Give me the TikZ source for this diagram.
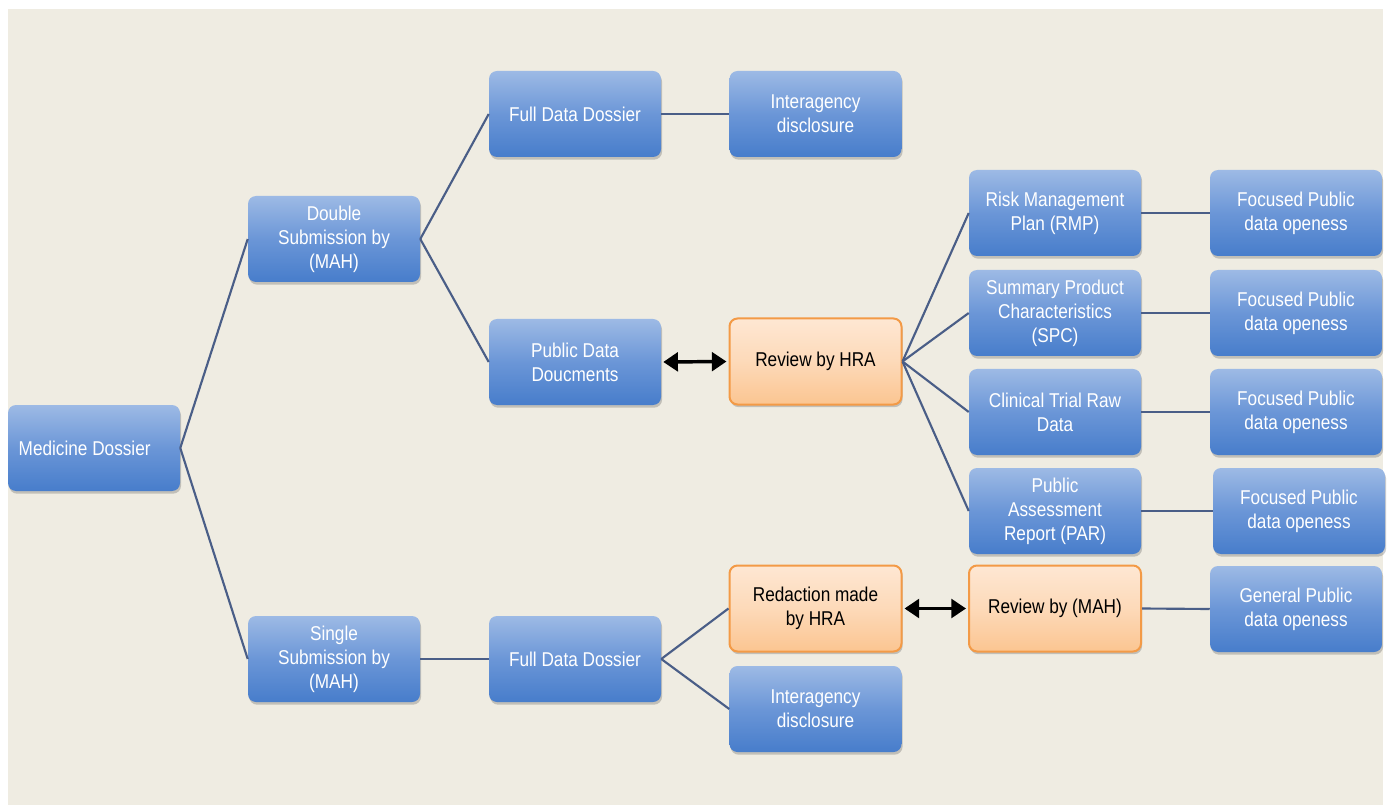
\documentclass[tikz,border=0pt]{standalone}
\usepackage{fontspec}
\setmainfont{Liberation Sans}[FakeStretch=0.86]
\usetikzlibrary{shadows,arrows.meta}
\definecolor{bg}{HTML}{EFECE2}
\definecolor{bluetop}{HTML}{9DBAE5}
\definecolor{bluemid}{HTML}{6B96D7}
\definecolor{bluebot}{HTML}{477DCB}
\definecolor{ortop}{HTML}{FEE7D3}
\definecolor{orbot}{HTML}{FBC591}
\definecolor{ordraw}{HTML}{F39A46}
\definecolor{conncol}{HTML}{4A5E87}
\tikzset{
  boxbase/.style={rectangle, rounded corners=6pt, minimum width=129pt, minimum height=64.5pt,
    inner sep=0pt, align=center, font=\fontsize{15}{18}\selectfont,
    drop shadow={shadow xshift=0.8pt, shadow yshift=-2pt, opacity=0.28, fill=black!70}},
  bluebox/.style={boxbase, text=white, top color=bluetop, bottom color=bluebot, middle color=bluemid},
  orbox/.style={boxbase, text=black, draw=ordraw, line width=1.5pt, top color=ortop, bottom color=orbot, middle color=ortop!60!orbot},
  conn/.style={draw=conncol, line width=1.6pt},
  dblarrow/.style={{Triangle[length=11pt,width=14pt]}-{Triangle[length=11pt,width=14pt]}, line width=2.6pt, black, shorten >=1.5pt, shorten <=1.5pt}
}
\begin{document}
\begin{tikzpicture}[x=0.75pt,y=-0.75pt]
\useasboundingbox (0,0) rectangle (1388,805);
\fill[white] (0,0) rectangle (1388,805);
\fill[bg] (8,9) rectangle (1383,805);

\node[bluebox] (med) at (94,448) {Medicine Dossier\hspace*{14pt}\mbox{}};
\node[bluebox] (dbl) at (334,239) {Double\\Submission by\\(MAH)};
\node[bluebox] (sgl) at (334,659) {Single\\Submission by\\(MAH)};
\node[bluebox] (fdt) at (575,114) {Full Data Dossier};
\node[bluebox] (pub) at (575,362) {Public Data\\Doucments};
\node[bluebox] (fdb) at (575,659) {Full Data Dossier};
\node[bluebox] (iat) at (815.5,114) {Interagency\\disclosure};
\node[orbox] (hra) at (815.5,361.5) {Review by HRA};
\node[orbox] (red) at (815.5,608.5) {Redaction made\\by HRA};
\node[bluebox] (iab) at (815.5,709) {Interagency\\disclosure};
\node[bluebox] (rmp) at (1055,213) {Risk Management\\Plan (RMP)};
\node[bluebox] (spc) at (1055,313) {Summary Product\\Characteristics\\(SPC)};
\node[bluebox] (ctr) at (1055,412) {Clinical Trial Raw\\Data};
\node[bluebox] (par) at (1055,511) {Public\\Assessment\\Report (PAR)};
\node[orbox] (rvm) at (1055,608.5) {Review by (MAH)};
\node[bluebox] (fo1) at (1296,213) {Focused Public\\data openess};
\node[bluebox] (fo2) at (1296,313) {Focused Public\\data openess};
\node[bluebox] (fo3) at (1296,412) {Focused Public\\data openess};
\node[bluebox] (fo4) at (1299,511) {Focused Public\\data openess};
\node[bluebox] (gen) at (1296,609) {General Public\\data openess};

\draw[conn] (med.east) -- (dbl.west);
\draw[conn] (med.east) -- (sgl.west);
\draw[conn] (dbl.east) -- (fdt.west);
\draw[conn] (dbl.east) -- (pub.west);
\draw[conn] (fdt.east) -- (iat.west);
\draw[conn] (hra.east) -- (rmp.west);
\draw[conn] (hra.east) -- (spc.west);
\draw[conn] (hra.east) -- (ctr.west);
\draw[conn] (hra.east) -- (par.west);
\draw[conn] (rmp.east) -- (fo1.west);
\draw[conn] (spc.east) -- (fo2.west);
\draw[conn] (ctr.east) -- (fo3.west);
\draw[conn] (par.east) -- (fo4.west);
\draw[conn] (sgl.east) -- (fdb.west);
\draw[conn] (fdb.east) -- (red.west);
\draw[conn] (fdb.east) -- (iab.west);
\draw[conn] (rvm.east) -- (gen.west);
\draw[dblarrow] (pub.east) -- (hra.west);
\draw[dblarrow] (red.east) -- (rvm.west);
\end{tikzpicture}
\end{document}
